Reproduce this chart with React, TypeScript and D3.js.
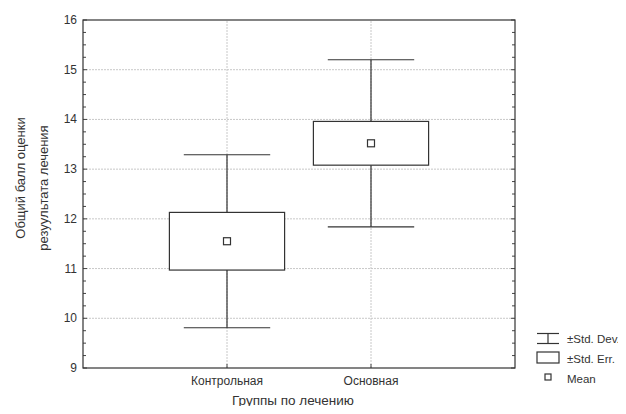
import React, { useRef, useEffect } from "react";
import * as d3 from "d3";

const groups = ["Контрольная", "Основная"];
const means = [11.55, 13.52];
const stdErr = [0.58, 0.44];
const stdDev = [1.74, 1.68];
const yTicks = [9, 10, 11, 12, 13, 14, 15, 16];
const legendItems = ["±Std. Dev.", "±Std. Err.", "Mean"];

const App = () => {
  const ref = useRef<SVGSVGElement>(null);

  useEffect(() => {
    const W = 626;
    const H = 414;
    const margin = { top: 20, right: 111, bottom: 46, left: 83 };
    const font = "'Liberation Sans', Arial, sans-serif";
    const svg = d3.select(ref.current);
    svg.selectAll("*").remove();

    const x = d3.scaleLinear().domain([0, 3]).range([margin.left, W - margin.right]);
    const y = d3.scaleLinear().domain([9, 16]).range([H - margin.bottom, margin.top]);
    const x0 = x(0), x1 = x(3), y0 = y(9), y1 = y(16);

    // grid
    svg.append("g")
      .selectAll("line")
      .data(yTicks.slice(1, -1))
      .join("line")
      .attr("x1", x0).attr("x2", x1)
      .attr("y1", (d) => y(d)).attr("y2", (d) => y(d))
      .attr("stroke", "#c8c8c8").attr("stroke-dasharray", "2,1");
    svg.append("g")
      .selectAll("line")
      .data(groups)
      .join("line")
      .attr("x1", (d, i) => x(i + 1)).attr("x2", (d, i) => x(i + 1))
      .attr("y1", y0).attr("y2", y1)
      .attr("stroke", "#c8c8c8").attr("stroke-dasharray", "2,1");

    // minor / major ticks inward on left and right
    const minor = d3.range(9, 16.001, 0.25);
    const ticks = svg.append("g").attr("stroke", "#444");
    minor.forEach((v) => {
      const len = Number.isInteger(v) ? 4 : 3;
      ticks.append("line").attr("x1", x0).attr("x2", x0 + len).attr("y1", y(v)).attr("y2", y(v));
      ticks.append("line").attr("x1", x1).attr("x2", x1 - len).attr("y1", y(v)).attr("y2", y(v));
    });
    groups.forEach((g, i) => {
      ticks.append("line").attr("x1", x(i + 1)).attr("x2", x(i + 1)).attr("y1", y0).attr("y2", y0 - 4);
    });

    // frame
    svg.append("rect")
      .attr("x", x0).attr("y", y1)
      .attr("width", x1 - x0).attr("height", y0 - y1)
      .attr("fill", "none").attr("stroke", "#333").attr("stroke-width", 1.2);

    // y tick labels
    svg.append("g")
      .selectAll("text")
      .data(yTicks)
      .join("text")
      .attr("x", x0 - 6).attr("y", (d) => y(d) + 4)
      .attr("text-anchor", "end")
      .attr("font-family", font).attr("font-size", 12).attr("fill", "#333")
      .text((d) => d);

    // x labels
    svg.append("g")
      .selectAll("text")
      .data(groups)
      .join("text")
      .attr("x", (d, i) => x(i + 1)).attr("y", y0 + 17)
      .attr("text-anchor", "middle")
      .attr("font-family", font).attr("font-size", 12).attr("fill", "#333")
      .text((d) => d);

    svg.append("text")
      .attr("x", 293).attr("y", H - 9)
      .attr("text-anchor", "middle")
      .attr("font-family", font).attr("font-size", 13.5).attr("fill", "#333")
      .text("Группы по лечению");

    const yl = svg.append("g")
      .attr("font-family", font).attr("font-size", 13).attr("fill", "#333")
      .attr("text-anchor", "middle");
    yl.append("text")
      .attr("transform", "translate(25,178) rotate(-90)")
      .text("Общий балл  оценки");
    yl.append("text")
      .attr("transform", "translate(48,188) rotate(-90)")
      .text("резуультата лечения");

    // boxes
    const boxW = x(1.4) - x(1);
    const capW = x(1.3) - x(1);
    groups.forEach((g, i) => {
      const cx = x(i + 1);
      const m = means[i];
      const gg = svg.append("g").attr("stroke", "#333").attr("stroke-width", 1.2).attr("fill", "none");
      gg.append("line").attr("x1", cx).attr("x2", cx).attr("y1", y(m + stdDev[i])).attr("y2", y(m + stdErr[i]));
      gg.append("line").attr("x1", cx).attr("x2", cx).attr("y1", y(m - stdErr[i])).attr("y2", y(m - stdDev[i]));
      gg.append("line").attr("x1", cx - capW).attr("x2", cx + capW).attr("y1", y(m + stdDev[i])).attr("y2", y(m + stdDev[i]));
      gg.append("line").attr("x1", cx - capW).attr("x2", cx + capW).attr("y1", y(m - stdDev[i])).attr("y2", y(m - stdDev[i]));
      gg.append("rect")
        .attr("x", cx - boxW).attr("y", y(m + stdErr[i]))
        .attr("width", boxW * 2).attr("height", y(m - stdErr[i]) - y(m + stdErr[i]))
        .attr("fill", "white");
      gg.append("rect")
        .attr("x", cx - 3.5).attr("y", y(m) - 3.5)
        .attr("width", 7).attr("height", 7).attr("fill", "white");
    });

    // legend
    const lg = svg.append("g").attr("stroke", "#333").attr("stroke-width", 1.2).attr("fill", "none");
    const lx = 537, lw = 22;
    lg.append("line").attr("x1", lx).attr("x2", lx + lw).attr("y1", 333.5).attr("y2", 333.5);
    lg.append("line").attr("x1", lx).attr("x2", lx + lw).attr("y1", 343.5).attr("y2", 343.5);
    lg.append("line").attr("x1", lx + lw / 2).attr("x2", lx + lw / 2).attr("y1", 333.5).attr("y2", 343.5);
    lg.append("rect").attr("x", lx).attr("y", 352).attr("width", lw).attr("height", 11);
    lg.append("rect").attr("x", lx + lw / 2 - 3).attr("y", 374).attr("width", 6).attr("height", 6);
    svg.append("g")
      .selectAll("text")
      .data(legendItems)
      .join("text")
      .attr("x", 567).attr("y", (d, i) => 343 + i * 20)
      .attr("font-family", font).attr("font-size", 11.5).attr("fill", "#333")
      .text((d) => d);
  }, []);

  return (
    <div style={{ margin: -8 }}>
      <svg ref={ref} width={626} height={414} style={{ display: "block", background: "white" }} />
    </div>
  );
};

export default App;
